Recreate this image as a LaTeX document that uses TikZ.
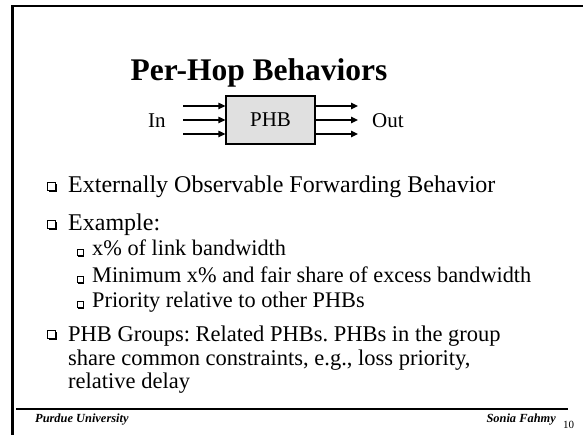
\documentclass[tikz,border=0pt]{standalone}
\usepackage{fontspec}
\setmainfont{Liberation Serif}
\usetikzlibrary{arrows.meta,shadows}
\frenchspacing
\begin{document}
\begin{tikzpicture}[x=1pt,y=-1pt,
  body/.style={anchor=base west,inner sep=0pt,font=\fontsize{24}{28}\selectfont},
  groupbody/.style={anchor=base west,inner sep=0pt,font=\fontsize{22.5}{26}\selectfont},
  subbody/.style={anchor=base west,inner sep=0pt,font=\fontsize{22.3}{26}\selectfont},
  mainbox/.style={draw,fill=white,line width=0.7pt,minimum size=7.5pt,inner sep=0pt,
    drop shadow={shadow xshift=1.3pt,shadow yshift=-1.3pt,fill=black,opacity=1}},
  subbox/.style={draw,fill=white,line width=0.6pt,minimum size=6pt,inner sep=0pt,
    drop shadow={shadow xshift=1.1pt,shadow yshift=-1.1pt,fill=black,opacity=1}},
  flow/.style={line width=1.3pt,-{Triangle[length=7pt,width=6.5pt]}},
  foot/.style={inner sep=0pt,font=\fontsize{12.4}{14}\selectfont\bfseries\itshape},
]
\useasboundingbox (0,0) rectangle (583,435);
\fill[white] (0,0) rectangle (583,435);

% slide frame
\draw[line width=2.6pt] (12.5,435) -- (12.5,6) -- (583,6);

% title
\node[inner sep=0pt,anchor=base,font=\fontsize{31.5}{38}\selectfont\bfseries] (title) at (259,81) {Per-Hop Behaviors};

% PHB block with its inputs and outputs
\node[draw,line width=1.3pt,fill=black!12,minimum width=89pt,minimum height=48pt,inner sep=0pt,
      font=\fontsize{21}{25}\selectfont] (phb) at (270.5,120) {PHB};
\node[anchor=base west,inner sep=0pt,font=\fontsize{21}{25}\selectfont] (in) at (148,128) {In};
\node[anchor=base west,inner sep=0pt,font=\fontsize{21}{25}\selectfont] (out) at (372,128) {Out};
\foreach \dy [count=\i] in {-14,0,14}{
  \coordinate (i\i) at (183,120+\dy);
  \coordinate (o\i) at (358,120+\dy);
  \draw[flow] (i\i) -- (i\i -| phb.west);
  \draw[flow] (o\i -| phb.east) -- (o\i);
}

% bullet list
\node[body] (l1) at (68,193) {Externally Observable Forwarding Behavior};
\node[body] (l2) at (68,231) {Example:};
\node[subbody] (l3) at (92,256) {x\% of link bandwidth};
\node[subbody] (l4) at (92,283) {Minimum x\% and fair share of excess bandwidth};
\node[subbody] (l5) at (92,308) {Priority relative to other PHBs};
\node[groupbody] (l6) at (68,341) {PHB Groups: Related PHBs. PHBs in the group};
\node[groupbody] (l7) at (68,365) {share common constraints, e.g., loss priority,};
\node[groupbody] (l8) at (68,388) {relative delay};

\node[mainbox] (b1) at (51.5,186.5) {};
\node[mainbox] (b2) at (51.5,224.5) {};
\node[mainbox] (b6) at (51.5,334.5) {};
\node[subbox] (b3) at (80,252.5) {};
\node[subbox] (b4) at (80,279.5) {};
\node[subbox] (b5) at (80,304.5) {};

% footer
\draw[line width=1.6pt] (16,409) -- (568,409);
\node[foot,anchor=base west] (uni) at (35,422) {Purdue University};
\node[foot,anchor=base east] (auth) at (556,422) {Sonia Fahmy};
\node[inner sep=0pt,anchor=base west,font=\fontsize{11}{13}\selectfont] (pg) at (563,428) {10};
\end{tikzpicture}
\end{document}
